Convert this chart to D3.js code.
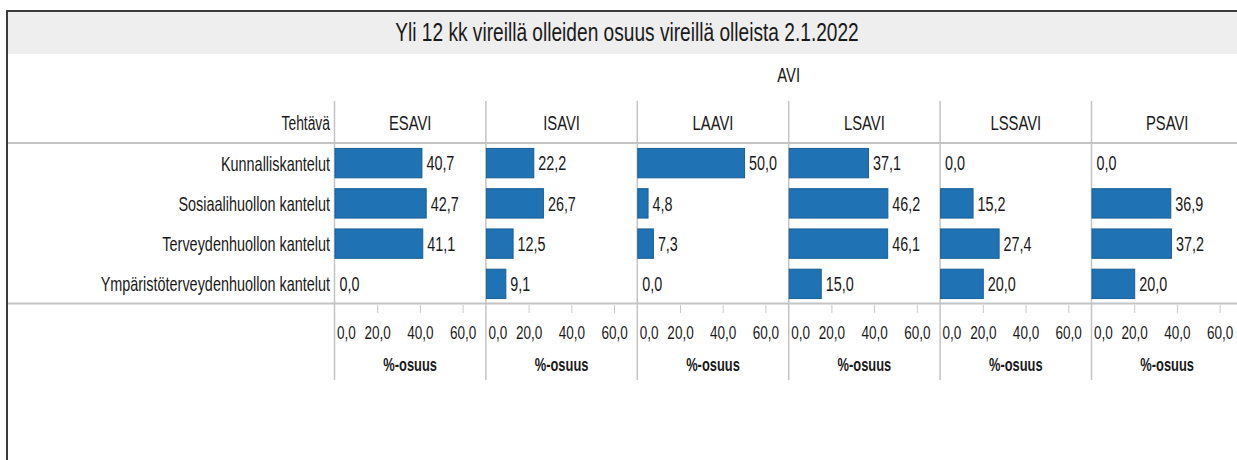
<!DOCTYPE html>
<html>
<head>
<meta charset="utf-8">
<script src="https://cdn.jsdelivr.net/npm/d3@7"></script>
<style>
  body { margin: 0; background: #fff; }
  svg text { font-family: "Liberation Sans Narrow", "Arial Narrow", "Liberation Sans", Arial, sans-serif; fill: #1a1a1a; }
</style>
</head>
<body>
<div id="chart"></div>
<script>
// data
const title = 'Yli 12 kk vireillä olleiden osuus vireillä olleista 2.1.2022';
const regions = ['ESAVI', 'ISAVI', 'LAAVI', 'LSAVI', 'LSSAVI', 'PSAVI'];
const tasks = [
  'Kunnalliskantelut',
  'Sosiaalihuollon kantelut',
  'Terveydenhuollon kantelut',
  'Ympäristöterveydenhuollon kantelut'
];
const esaviVals  = [40.7, 42.7, 41.1, 0.0];
const isaviVals  = [22.2, 26.7, 12.5, 9.1];
const laaviVals  = [50.0, 4.8, 7.3, 0.0];
const lsaviVals  = [37.1, 46.2, 46.1, 15.0];
const lssaviVals = [0.0, 15.2, 27.4, 20.0];
const psaviVals  = [0.0, 36.9, 37.2, 20.0];
const xTicks = [0, 20, 40, 60];

const valuesByRegion = {
  'ESAVI': esaviVals, 'ISAVI': isaviVals, 'LAAVI': laaviVals,
  'LSAVI': lsaviVals, 'LSSAVI': lssaviVals, 'PSAVI': psaviVals
};

const width = 1237, height = 460;
const fmt = v => d3.format('.1f')(v).replace('.', ',');

// the original uses a narrow font; squeeze the glyphs to get the same look
function condense(sel, c) {
  sel.each(function () {
    const w = this.getComputedTextLength();
    d3.select(this)
      .attr('textLength', w * c)
      .attr('lengthAdjust', 'spacingAndGlyphs');
  });
}

const svg = d3.select('#chart').append('svg')
  .attr('width', width)
  .attr('height', height);

// frame + title band
svg.append('rect')
  .attr('x', 8).attr('y', 12)
  .attr('width', width).attr('height', 42)
  .attr('fill', '#eeeeee');
svg.append('line')
  .attr('x1', 7).attr('x2', width).attr('y1', 11).attr('y2', 11)
  .attr('stroke', '#3c3c3c').attr('stroke-width', 2);
svg.append('line')
  .attr('x1', 7).attr('x2', 7).attr('y1', 10).attr('y2', height)
  .attr('stroke', '#3c3c3c').attr('stroke-width', 2);

svg.append('text')
  .attr('class', 'title')
  .attr('x', 627).attr('y', 41)
  .attr('text-anchor', 'middle')
  .style('font-size', '25px')
  .text(title);

// layout scales
const panelX = d3.scaleBand()
  .domain(regions)
  .range([334.5, 334.5 + 151.4 * regions.length]);

const rowY = d3.scaleBand()
  .domain(tasks)
  .range([143, 304])
  .paddingInner(0.27)
  .paddingOuter(0.135);

const x = d3.scaleLinear()
  .domain([0, 70.9])
  .range([0, panelX.bandwidth()]);

// AVI + header texts
svg.append('text')
  .attr('class', 'hdr')
  .attr('x', (panelX.range()[0] + panelX.range()[1]) / 2)
  .attr('y', 82)
  .attr('text-anchor', 'middle')
  .style('font-size', '21px')
  .text('AVI');

svg.append('text')
  .attr('class', 'teh')
  .attr('x', 330).attr('y', 129.5)
  .attr('text-anchor', 'end')
  .style('font-size', '20px')
  .text('Tehtävä');

// grid lines
svg.append('line')
  .attr('x1', 8).attr('x2', width).attr('y1', 143).attr('y2', 143)
  .attr('stroke', '#c4c4c4').attr('stroke-width', 2);
svg.append('line')
  .attr('x1', 8).attr('x2', width).attr('y1', 303.5).attr('y2', 303.5)
  .attr('stroke', '#c4c4c4').attr('stroke-width', 2);

// row labels
svg.selectAll('.row-label')
  .data(tasks)
  .enter()
  .append('text')
    .attr('class', 'row-label')
    .attr('x', 330)
    .attr('y', d => rowY(d) + rowY.bandwidth() / 2)
    .attr('dy', '0.36em')
    .attr('text-anchor', 'end')
    .style('font-size', '21px')
    .text(d => d);

// panels
regions.forEach(region => {
  const left = panelX(region);
  const g = svg.append('g')
    .attr('transform', 'translate(' + left + ',0)');

  g.append('line')
    .attr('x1', 0).attr('x2', 0).attr('y1', 101).attr('y2', 380)
    .attr('stroke', '#c4c4c4').attr('stroke-width', 1.5);

  g.append('text')
    .attr('class', 'hdr')
    .attr('x', panelX.bandwidth() / 2)
    .attr('y', 129.5)
    .attr('text-anchor', 'middle')
    .style('font-size', '21px')
    .text(region);

  const rows = tasks.map((t, i) => ({task: t, value: valuesByRegion[region][i]}));

  g.selectAll('rect')
    .data(rows.filter(d => d.value > 0))
    .enter()
    .append('rect')
      .attr('x', x(0) + 0.5)
      .attr('y', d => rowY(d.task))
      .attr('width', d => x(d.value))
      .attr('height', rowY.bandwidth())
      .attr('fill', '#1f72b3')
      .attr('stroke', '#1a5f95')
      .attr('stroke-width', 1);

  g.selectAll('.val')
    .data(rows)
    .enter()
    .append('text')
      .attr('class', 'val')
      .attr('x', d => x(d.value) + 5)
      .attr('y', d => rowY(d.task) + rowY.bandwidth() / 2)
      .attr('dy', '0.36em')
      .style('font-size', '20px')
      .text(d => fmt(d.value));

  // axis
  const axis = g.append('g')
    .attr('transform', 'translate(0,305)')
    .call(d3.axisBottom(x).tickValues(xTicks).tickSize(8).tickFormat(fmt));
  axis.attr('font-family', null).attr('font-size', null);
  axis.select('.domain').remove();
  axis.selectAll('.tick line').attr('stroke', '#c8c8c8');
  axis.selectAll('.tick line').filter(d => d == 0).remove();
  axis.selectAll('.tick text')
    .attr('class', 'tick-lbl')
    .attr('y', 34)
    .attr('dy', '0')
    .style('font-size', '18.5px');
  axis.selectAll('.tick text').filter(d => d == 0)
    .attr('text-anchor', 'start')
    .attr('x', 2);

  g.append('text')
    .attr('class', 'unit')
    .attr('x', panelX.bandwidth() / 2)
    .attr('y', 371)
    .attr('text-anchor', 'middle')
    .style('font-size', '19px')
    .style('font-weight', 'bold')
    .text('%-osuus');
});

condense(svg.selectAll('text.title'), 0.765);
condense(svg.selectAll('text.hdr'), 0.705);
condense(svg.selectAll('text.teh'), 0.692);
condense(svg.selectAll('text.row-label'), 0.687);
condense(svg.selectAll('text.val'), 0.718);
condense(svg.selectAll('text.tick-lbl'), 0.73);
condense(svg.selectAll('text.unit'), 0.678);
</script>
</body>
</html>
